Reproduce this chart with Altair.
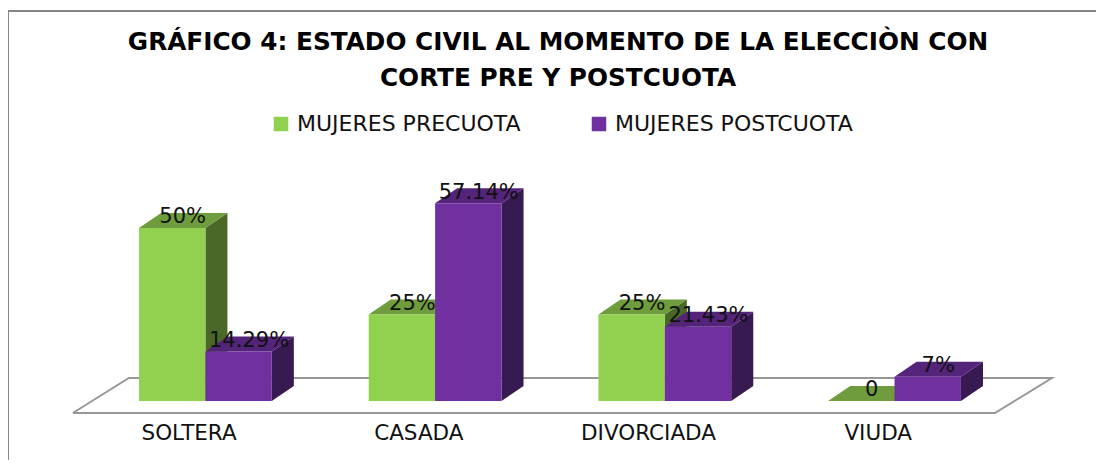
import altair as alt
import pandas as pd

categories = ["SOLTERA", "CASADA", "DIVORCIADA", "VIUDA"]
pre_values = [50, 25, 25, 0]
post_values = [14.29, 57.14, 21.43, 7]
pre_labels = ["50%", "25%", "25%", "0"]
post_labels = ["14.29%", "57.14%", "21.43%", "7%"]
series_names = ["MUJERES PRECUOTA", "MUJERES POSTCUOTA"]
title_lines = ["GRÁFICO 4: ESTADO CIVIL AL MOMENTO DE LA ELECCIÒN CON",
               "CORTE PRE Y POSTCUOTA"]

W, H = 1088, 449
BAR = 0.289      # bar width in category units
DX = 0.096       # 3-D depth, horizontal (category units)
DY = 4.33        # 3-D depth, vertical (percent units)
x_scale = alt.Scale(domain=[-0.5703, 4.166], nice=False, zero=False)
y_scale = alt.Scale(domain=[-17.05, 112.7], nice=False, zero=False)

front, tops, sides, labels, cats = [], [], [], [], []
for i, cat in enumerate(categories):
    cats.append({"x": i + 0.218, "y": -9.4, "t": cat})
    for s, (vals, labs) in enumerate([(pre_values, pre_labels), (post_values, post_labels)]):
        v = vals[i]
        left = i + s * BAR
        right = left + BAR
        front.append({"series": series_names[s], "s": s, "cat": cat, "x": left, "x2": right, "y": 0, "y2": v})
        tops += [
            {"s": s, "cat": cat, "x": left, "y": v, "y2": v},
            {"s": s, "cat": cat, "x": left + DX, "y": v, "y2": v + DY},
            {"s": s, "cat": cat, "x": right, "y": v, "y2": v + DY},
            {"s": s, "cat": cat, "x": right + DX, "y": v + DY, "y2": v + DY},
        ]
        sides += [
            {"s": s, "cat": cat, "x": right, "y": 0, "y2": v},
            {"s": s, "cat": cat, "x": right + DX, "y": DY, "y2": v + DY},
        ]
        labels.append({"x": left + 0.19, "y": v + 3.1, "t": labs[i]})

front_df, tops_df, sides_df = map(pd.DataFrame, (front, tops, sides))

X = alt.X("x:Q", scale=x_scale, axis=None)
Y = alt.Y("y:Q", scale=y_scale, axis=None)

floor_df = pd.DataFrame({
    "x": [-0.288, 3.726, 3.974, -0.044, -0.288],
    "y": [-3.47, -3.47, 6.65, 6.65, -3.47],
    "o": [0, 1, 2, 3, 4],
})
floor = alt.Chart(floor_df).mark_line(color="#979797", strokeWidth=2, strokeJoin="miter").encode(
    x=X, y=Y, order="o:Q")


def series_layers(s, top_color, side_color):
    t = alt.Chart(tops_df[tops_df.s == s]).mark_area(color=top_color).encode(
        x=X, y=Y, y2="y2:Q", detail="cat:N")
    d = alt.Chart(sides_df[sides_df.s == s]).mark_area(color=side_color).encode(
        x=X, y=Y, y2="y2:Q", detail="cat:N")
    f = alt.Chart(front_df[front_df.s == s]).mark_rect().encode(
        x=X, x2="x2:Q", y=Y, y2="y2:Q",
        color=alt.Color("series:N",
                        scale=alt.Scale(domain=series_names, range=["#92D050", "#7030A0"]),
                        legend=alt.Legend(title=None, orient="none", legendX=262, legendY=102,
                                          direction="horizontal", columns=2, columnPadding=67,
                                          symbolType="square", symbolSize=210, symbolStrokeWidth=0,
                                          labelFont="DejaVu Sans", labelFontSize=22, labelColor="#111111",
                                          labelLimit=320, labelOffset=5)))
    return [d, t, f]


text_labels = alt.Chart(pd.DataFrame(labels)).mark_text(
    font="DejaVu Sans", fontSize=21, color="#111111", baseline="middle", align="center"
).encode(x=X, y=Y, text="t:N")

cat_labels = alt.Chart(pd.DataFrame(cats)).mark_text(
    font="DejaVu Sans", fontSize=21.5, color="#111111", baseline="middle", align="center"
).encode(x=X, y=Y, text="t:N")

one = pd.DataFrame({"a": [0]})
frame_left = alt.Chart(one).mark_rule(color="#868686", strokeWidth=2).encode(
    x=alt.value(0), y=alt.value(0), y2=alt.value(H))
frame_top = alt.Chart(one).mark_rule(color="#868686", strokeWidth=2).encode(
    x=alt.value(0), x2=alt.value(W), y=alt.value(0))

chart = alt.layer(
    frame_left, frame_top, floor,
    *series_layers(0, "#6F9C3D", "#4B6828"),
    *series_layers(1, "#54247A", "#371A52"),
    text_labels, cat_labels,
).resolve_scale(color="shared").properties(
    width=W, height=H,
    autosize=alt.AutoSizeParams(type="none"),
    padding={"left": 0, "top": 3, "right": 0, "bottom": 0},
    title=alt.TitleParams(text=title_lines, font="DejaVu Sans", fontSize=24.75, fontWeight="bold",
                          color="#000000", anchor="middle", dx=6, dy=85, lineHeight=36),
).configure_view(stroke=None).configure(background="white")

chart.save("out.html", embed_options={"renderer": "svg", "actions": False})
